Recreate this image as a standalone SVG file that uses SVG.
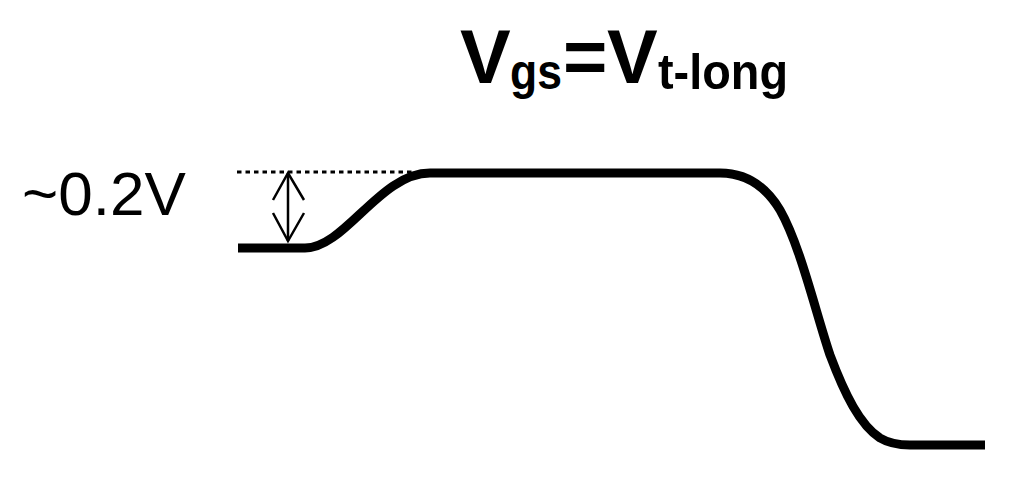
<svg xmlns="http://www.w3.org/2000/svg" width="1012" height="487" viewBox="0 0 1012 487">
<style>
.t{font-family:"Liberation Sans",Arial,sans-serif;fill:#000}
.b{font-weight:bold}
.curve{fill:none;stroke:#000;stroke-width:9;stroke-linejoin:round}
.thin{fill:none;stroke:#000;stroke-width:2.5}
</style>
<rect width="1012" height="487" fill="#fff"/>
<g id="title">
<text class="t b" y="83" font-size="76"><tspan x="460">V</tspan><tspan x="510" y="89" font-size="50" textLength="52" lengthAdjust="spacingAndGlyphs">gs</tspan><tspan x="563" y="83">=</tspan><tspan x="607">V</tspan><tspan x="658" y="89" font-size="50" textLength="130" lengthAdjust="spacingAndGlyphs">t-long</tspan></text>
</g>
<g id="label">
<text class="t" x="22" y="215" font-size="62">~0.2V</text>
</g>
<g id="connectors">
<path id="curve" class="curve" d="M238,248 L305,248 C345,248 380,173 430,173 L720,173 C745,173 765,185 780,210 C800,245 815,310 830,355 C845,395 860,425 880,438 C890,444 900,445 910,445 L985,445"/>
<line id="dotted" x1="237" y1="172" x2="412" y2="172" stroke="#000" stroke-width="3" stroke-dasharray="4.5 4"/>
<g id="arrow">
<line class="thin" x1="288" y1="173" x2="288" y2="241"/>
<polyline class="thin" points="273,200 288,173 304,200"/>
<polyline class="thin" points="273,213 288,241 304,213"/>
</g>
</g>
</svg>
